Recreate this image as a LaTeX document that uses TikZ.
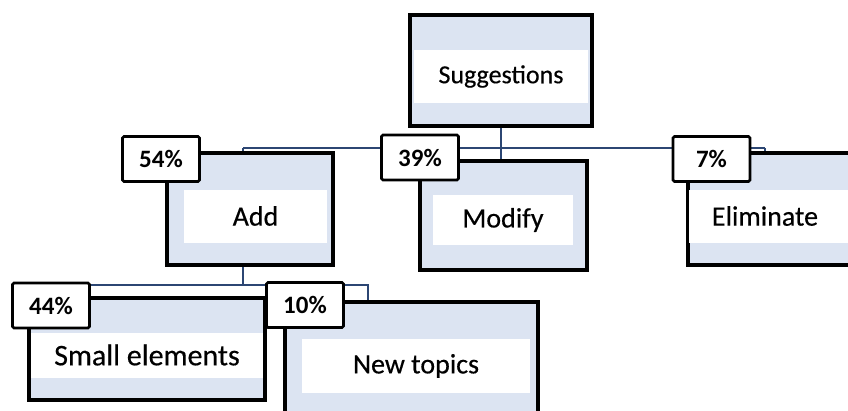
\documentclass[tikz,border=0pt]{standalone}
\usepackage{fontspec}
\setmainfont{Carlito}[FakeBold=0.4,BoldFont=Carlito Bold,BoldFeatures={FakeBold=0}]
\definecolor{boxblue}{RGB}{220,228,242}
\definecolor{connblue}{RGB}{44,70,115}
\pgfdeclarelayer{paper}
\pgfdeclarelayer{bg}
\pgfsetlayers{paper,bg,main}
\begin{document}
\begin{tikzpicture}[x=1pt,y=-1pt,
  bigbox/.style={draw=black,line width=3.2pt,fill=boxblue,inner sep=0pt},
  band/.style={fill=white,inner sep=0pt,font=\fontsize{28}{30}\selectfont},
  pct/.style={draw=black,line width=2.6pt,fill=white,rounded corners=1.5pt,inner sep=0pt,
    minimum width=77pt,minimum height=45pt,font=\bfseries\fontsize{25}{27}\selectfont},
  conn/.style={draw=connblue,line width=2.8pt}]
\clip (0,0) rectangle (848,410);
\begin{pgfonlayer}{paper}
\fill[white] (0,0) rectangle (848,410);
\end{pgfonlayer}
% bus coordinates
\coordinate (b1) at (243,148);
\coordinate (b3) at (765,148);
\coordinate (c1) at (75,285);
\coordinate (c2) at (368,285);
% outer boxes
\node[bigbox,minimum width=182pt,minimum height=111pt] (sug) at (501,70.5) {};
\node[bigbox,minimum width=166pt,minimum height=112pt] (add) at (250,209) {};
\node[bigbox,minimum width=167pt,minimum height=109pt] (mod) at (503.5,215.5) {};
\node[bigbox,minimum width=190pt,minimum height=112pt] (eli) at (783,209) {};
\node[bigbox,minimum width=236pt,minimum height=102pt] (sme) at (147,349) {};
\node[bigbox,minimum width=253pt,minimum height=124pt] (nwt) at (411.5,364) {};
% white bands with text
\node[band,minimum width=174pt,minimum height=53pt,font=\fontsize{26}{28}\selectfont] (sugT) at (501,76.5) {Suggestions};
\node[band,minimum width=143pt,minimum height=53pt] (addT) at (255.5,216) {Add};
\node[band,minimum width=140pt,minimum height=50pt] (modT) at (503,220) {Modify};
\node[band,minimum width=170pt,minimum height=53pt] (eliT) at (774,216) {\hspace*{-18pt}Eliminate};
\node[band,minimum width=232pt,minimum height=45pt,font=\fontsize{30}{32}\selectfont] (smeT) at (147,355) {Small elements};
\node[band,minimum width=228pt,minimum height=54pt] (nwtT) at (416,366) {New topics};
% connectors (behind)
\begin{pgfonlayer}{bg}
\draw[conn] (b1) -- (b3);
\draw[conn] (sug.south) -- (sug.south |- b1) -- (sug.south |- mod.north);
\draw[conn] (b1) -- (b1 |- add.north);
\draw[conn] (b3) -- (b3 |- eli.north);
\draw[conn] (b1 |- add.south) -- (b1 |- c1);
\draw[conn] (c1) -- (c2) -- (c2 |- nwt.north);
\draw[conn] (c1) -- (c1 |- sme.north);
\end{pgfonlayer}
% percentage labels
\node[pct] (p54) at (161,159) {54\%};
\node[pct] (p39) at (420,157.5) {39\%};
\node[pct] (p7) at (711.5,159) {7\%};
\node[pct] (p44) at (51,305.5) {44\%};
\node[pct] (p10) at (305,305) {10\%};
\end{tikzpicture}
\end{document}
